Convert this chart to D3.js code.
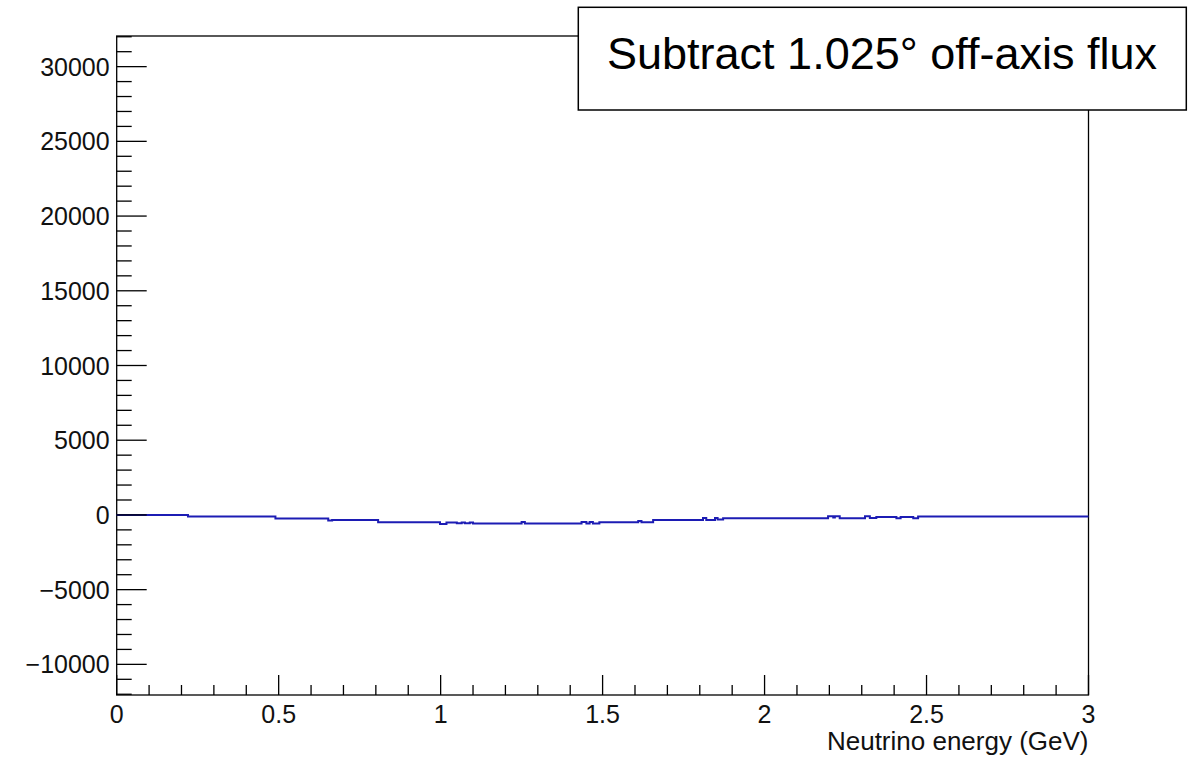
<!DOCTYPE html>
<html>
<head>
<meta charset="utf-8">
<script src="https://cdn.jsdelivr.net/npm/d3@7"></script>
<style>
  html, body { margin: 0; padding: 0; background: #fff; }
  svg { display: block; font-family: "Liberation Sans", Arial, Helvetica, sans-serif; }
</style>
</head>
<body>
<svg id="chart" width="1188" height="757"></svg>
<script>
// Histogram bin edges (GeV) and contents for the subtracted flux
const binEdges = [0, 0.22, 0.49, 0.653, 0.665, 0.807, 0.998, 1.018, 1.05, 1.065, 1.075, 1.09, 1.10,
  1.25, 1.26, 1.435, 1.45, 1.46, 1.47, 1.49, 1.61, 1.62, 1.656, 1.81, 1.82, 1.847, 1.855, 1.872,
  2.196, 2.212, 2.217, 2.232, 2.31, 2.325, 2.345, 2.407, 2.42, 2.459, 2.474, 3.0];
const binValues = [0, -110, -245, -380, -334, -490, -600, -500, -560, -500, -560, -500,
  -580, -480, -580, -480, -580, -480, -580, -490, -400, -490, -334, -200, -334, -200, -300,
  -223, -89, -180, -89, -223, -89, -200, -130, -223, -130, -223, -110];

const xMajorTicks = [0, 0.5, 1, 1.5, 2, 2.5, 3];
const xTickLabels = ["0", "0.5", "1", "1.5", "2", "2.5", "3"];
const yMajorTicks = [-10000, -5000, 0, 5000, 10000, 15000, 20000, 25000, 30000];
const yTickLabels = ["\u221210000", "\u22125000", "0", "5000", "10000", "15000", "20000", "25000", "30000"];

const titleText = "Subtract 1.025\u00b0 off-axis flux";
const xAxisTitle = "Neutrino energy (GeV)";

const frame = { left: 116.7, right: 1088.5, top: 36, bottom: 695 };

const svg = d3.select("#chart");

const x = d3.scaleLinear().domain([0, 3]).range([frame.left, frame.right]);
const y = d3.scaleLinear().domain([-12050, 32050]).range([frame.bottom, frame.top]);

// Frame
svg.append("rect")
  .attr("x", frame.left).attr("y", frame.top)
  .attr("width", frame.right - frame.left).attr("height", frame.bottom - frame.top)
  .attr("fill", "none").attr("stroke", "#000").attr("stroke-width", 1.3);

// Histogram as a step line
const pts = [];
binValues.forEach((v, i) => {
  pts.push([binEdges[i], v]);
  pts.push([binEdges[i + 1], v]);
});
const line = d3.line().x(d => x(d[0])).y(d => y(d[1]));
svg.append("path")
  .attr("d", line(pts))
  .attr("fill", "none")
  .attr("stroke", "#1c1cb4")
  .attr("stroke-width", 2);

// Y axis ticks (inward)
const yMinor = d3.range(-12000, 32001, 1000);
const yAxisG = svg.append("g");
yAxisG.selectAll("line.minor").data(yMinor).join("line")
  .attr("x1", frame.left).attr("x2", d => frame.left + (d % 5000 === 0 ? 30 : 15))
  .attr("y1", d => y(d)).attr("y2", d => y(d))
  .attr("stroke", "#000").attr("stroke-width", 1.3);
yAxisG.selectAll("text").data(yMajorTicks).join("text")
  .attr("x", frame.left - 7).attr("y", d => y(d))
  .attr("dy", "0.36em")
  .attr("text-anchor", "end")
  .attr("font-size", 25).attr("fill", "#111")
  .text((d, i) => yTickLabels[i]);

// X axis ticks (inward)
const xMinor = d3.range(0, 30.001, 1).map(v => v / 10);
const xAxisG = svg.append("g");
xAxisG.selectAll("line").data(xMinor).join("line")
  .attr("x1", d => x(d)).attr("x2", d => x(d))
  .attr("y1", frame.bottom)
  .attr("y2", (d, i) => frame.bottom - (i % 5 === 0 ? 20 : 10))
  .attr("stroke", "#000").attr("stroke-width", 1.3);
xAxisG.selectAll("text").data(xMajorTicks).join("text")
  .attr("x", d => x(d)).attr("y", 723)
  .attr("text-anchor", "middle")
  .attr("font-size", 25).attr("fill", "#111")
  .text((d, i) => xTickLabels[i]);

svg.append("text")
  .attr("x", frame.right).attr("y", 750)
  .attr("text-anchor", "end")
  .attr("font-size", 26).attr("fill", "#111")
  .text(xAxisTitle);

// Title box
svg.append("rect")
  .attr("x", 578.3).attr("y", 7.3).attr("width", 608).attr("height", 102.7)
  .attr("fill", "#fff").attr("stroke", "#000").attr("stroke-width", 1.5);
svg.append("text")
  .attr("x", 882).attr("y", 69)
  .attr("text-anchor", "middle")
  .attr("font-size", 45).attr("fill", "#000")
  .text(titleText);
</script>
</body>
</html>
